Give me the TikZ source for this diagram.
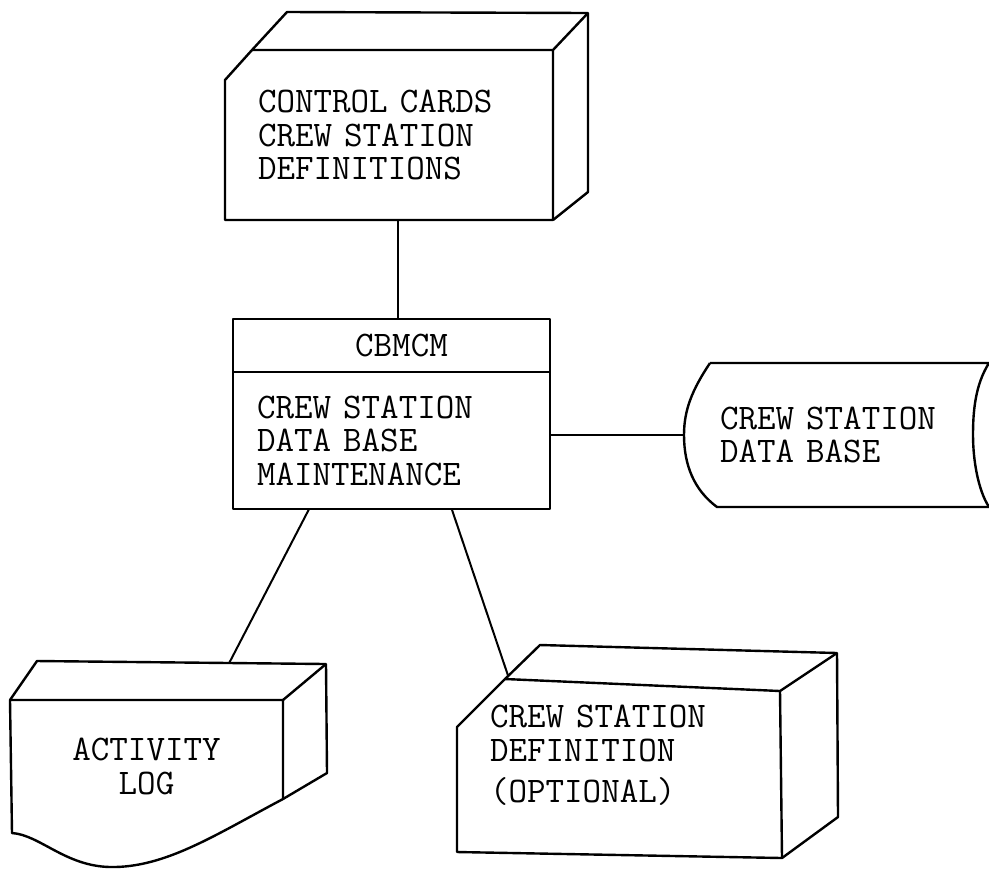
\documentclass[tikz,border=0pt]{standalone}
\usepackage{fontspec}
\usetikzlibrary{positioning,calc}
\tikzset{
  boxtext/.style={font=\fontsize{18}{16.75}\selectfont\ttfamily, inner sep=0pt, outer sep=0pt},
  outline/.style={line width=1.2pt, line join=round},
  link/.style={line width=1pt}
}
\begin{document}
\begin{tikzpicture}[x=0.5pt, y=-0.5pt]
  \path[use as bounding box, fill=white] (0,0) rectangle (989,869);
  % card deck
  \node[boxtext, align=left, text width=131pt, inner xsep=16.5pt, minimum width=164pt, minimum height=85pt] (cards) at (389,135) {CONTROL CARDS\\CREW STATION\\DEFINITIONS};
  \draw[outline] ($(cards.north west)+(0,30)$) -- ($(cards.north west)+(27,0)$) -- (cards.north east) -- (cards.south east) -- (cards.south west) -- cycle;
  \draw[outline] ($(cards.north west)+(27,0)$) -- ($(cards.north west)+(62,-38)$) -- ($(cards.north east)+(35,-37)$) -- ($(cards.south east)+(35,-28)$) -- (cards.south east);
  \draw[outline] (cards.north east) -- ++(35,-37);

  % program box
  \node[boxtext, draw, outline, minimum width=158.5pt, minimum height=26.5pt] (cbmcm) at (391.5,345.5) {\hspace{10pt}CBMCM};
  \node[boxtext, draw, outline, below=0pt of cbmcm, align=left, text width=134.5pt, inner xsep=12pt, minimum width=158.5pt, minimum height=68.5pt] (maint) {CREW STATION\\DATA BASE\\MAINTENANCE};

  % disk file
  \node[boxtext, align=left, text width=116.5pt, inner xsep=18pt, minimum width=152.5pt, minimum height=72pt] (drumdb) at (836.5,435) {CREW STATION\\DATA BASE};
  \draw[outline] ($(drumdb.north west)+(26,0)$) .. controls ($(drumdb.west)+(8,-45)$) and ($(drumdb.west)+(0,-25)$) .. (drumdb.west) .. controls ($(drumdb.west)+(0,30)$) and ($(drumdb.west)+(10,55)$) .. ($(drumdb.south west)+(33,0)$) -- (drumdb.south east);
  \draw[outline] ($(drumdb.north west)+(26,0)$) -- (drumdb.north east) .. controls ($(drumdb.east)+(-14,-50)$) and ($(drumdb.east)+(-16,-23)$) .. ($(drumdb.east)+(-16,0)$) .. controls ($(drumdb.east)+(-16,25)$) and ($(drumdb.east)+(-11,55)$) .. (drumdb.south east);

  % printed log
  \node[boxtext, align=center, minimum width=136.5pt, minimum height=66.5pt] (actlog) at (146.5,766.5) {ACTIVITY\\LOG};
  \coordinate (logbackl) at ($(actlog.north west)+(27,-39)$);
  \coordinate (logbackr) at ($(actlog.north east)+(43,-36)$);
  \draw[outline] (actlog.north west) -- (actlog.north east) -- ($(actlog.south east)+(0,-34)$) .. controls ($(actlog.south west)+(205,2)$) and ($(actlog.south west)+(155,35)$) .. ($(actlog.south west)+(100,34)$) .. controls ($(actlog.south west)+(55,33)$) and ($(actlog.south west)+(30,2)$) .. ($(actlog.south west)+(2,0)$) -- cycle;
  \draw[outline] (actlog.north west) -- (logbackl) -- (logbackr) -- ($(actlog.north east)+(44,73)$) -- ($(actlog.south east)+(0,-34)$);
  \draw[outline] (actlog.north east) -- (logbackr);

  % definition deck
  \node[boxtext, align=left, text width=129pt, inner xsep=16.5pt, minimum width=162pt, minimum height=88pt] (csdef) at (619,755) {CREW STATION\\DEFINITION\\[3.75pt](OPTIONAL)};
  \coordinate (defcut) at ($(csdef.north west)+(48,12)$);
  \coordinate (defback) at ($(csdef.north west)+(83,-22)$);
  \draw[outline] ($(csdef.north west)+(0,60)$) -- (defcut) -- ($(csdef.north east)+(-1,24)$) -- ($(csdef.south east)+(1,15)$) -- ($(csdef.south west)+(0,9)$) -- cycle;
  \draw[outline] (defcut) -- (defback) -- ($(csdef.north east)+(56,-14)$) -- ($(csdef.south east)+(57,-26)$) -- ($(csdef.south east)+(1,15)$);
  \draw[outline] ($(csdef.north east)+(-1,24)$) -- ($(csdef.north east)+(56,-14)$);

  % links
  \draw[link] ($(cards.south)+(9,0)$) -- ($(cbmcm.north)+(6.5,0)$);
  \draw[link] (maint.east |- drumdb.west) -- (drumdb.west);
  \draw[link] ($(maint.south west)!0.24!(maint.south east)$) -- ($(logbackl)!0.665!(logbackr)$);
  \draw[link] ($(maint.south west)!0.69!(maint.south east)$) -- ($(defcut)!0.09!(defback)$);
\end{tikzpicture}
\end{document}
